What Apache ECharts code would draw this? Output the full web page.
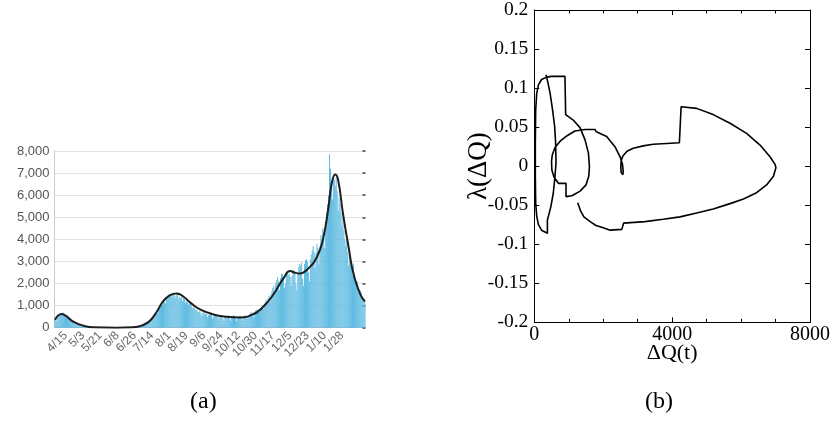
<!DOCTYPE html>
<html><head><meta charset="utf-8">
<script src="https://cdn.jsdelivr.net/npm/echarts@6/dist/echarts.min.js"></script>
<style>html,body{margin:0;padding:0;background:#fff}#c{width:839px;height:422px}</style>
</head><body><div id="c"></div>
<script>
// ---------- Panel (a): daily new cases ----------
const firstDay = '2020-04-04';
const dayCount = 324;
const tickLabels = ['4/15','5/3','5/21','6/8','6/26','7/14','8/1','8/19','9/6','9/24','10/12','10/30','11/17','12/5','12/23','1/10','1/28'];
const yTicks = [0,1000,2000,3000,4000,5000,6000,7000,8000];

const aprBars = [380,420,300,460,520,560,610,650,640,690,540,470,520,560,500,470,430,360,300,320,290,250,210,180,150,130,140];
const mayBars = [120,100,95,80,60,50,55,45,40,30,35,28,22,20,18,16,12,15,10,12,9,8,10,7,8,6,8,9,7,10,8];
const junBars = [6,8,7,5,9,8,6,10,9,7,12,10,8,11,14,12,10,15,13,16,20,18,15,22,25,28,24,35,40,50];
const julBars = [90,110,140,170,150,190,230,260,290,240,320,360,400,350,430,520,600,680,720,650,800,900,1000,1100,1050,1200,1250,1100,1350,1420,1480];
const augBars = [1500,1530,1400,1560,1580,1500,1350,1450,1560,1500,1280,1400,1350,1380,1200,1350,1300,1120,1200,1150,1050,1100,1120,1000,880,950,900,860,780,800,700];
const sepBars = [720,760,650,520,680,700,640,600,620,480,560,600,620,580,420,500,560,540,600,520,380,480,520,560,500,400,300,480,540,520];
const octBars = [500,540,480,320,460,520,560,540,500,300,460,500,520,540,480,320,450,500,560,540,520,400,560,620,700,680,640,480,700,780,820];
const novBars = [780,820,700,880,950,1000,850,1050,1150,1250,1200,1350,1450,1150,1500,1650,1800,1900,1600,2000,2150,2300,2100,1700,2250,2450,2420,2300,1800,2000];
const decBars = [2500,2550,2400,2450,2300,1900,2350,2550,2600,2500,2000,1700,2450,2750,2900,2800,2950,2200,1900,2900,3050,3100,3000,2500,2100,3100,3300,3500,3700,3400,2700];
const janBars = [3400,3800,3600,2900,3700,4200,4000,4500,4200,3600,4800,5200,5600,6000,7850,7200,6600,5800,6900,6700,6400,6800,6200,5300,5900,5600,5200,4600,5000,4400,4000];
const febBars = [3700,4000,3400,2800,3300,3000,2700,2400,2900,2500,2200,1900,2100,1800,1500,1700,1600,1300,1200,1350,1100];

const curveDates = ['4/4','4/11','4/16','4/23','5/4','5/14','6/7','6/24','7/5','7/12','7/19','7/26','8/2','8/9','8/16','8/24','9/2','9/16','9/30','10/14','10/28','11/7','11/17','11/28','12/5','12/10','12/15','12/24','1/2','1/8','1/14','1/17','1/21','1/24','1/29','2/4','2/9','2/16','2/21'];
const curveValues = [360,615,510,275,88,15,3,15,120,317,724,1220,1480,1553,1400,1100,830,600,498,467,620,950,1470,2230,2565,2490,2458,2685,3215,3966,5475,6460,6940,6690,5180,3620,2430,1520,1180];

// ---------- Panel (b): lambda vs delta Q ----------
const dQ = [340,400,460,530,590,620,630,600,550,480,410,380,380,210,120,70,40,30,30,40,70,120,210,360,500,890,910,1130,1330,1470,1570,1600,1580,1500,1330,1090,920,920,700,570,510,500,520,600,750,950,1180,1470,1760,1800,2100,2340,2490,2560,2580,2570,2520,2510,2520,2570,2690,2870,3160,3450,3840,4210,4260,4710,5190,5680,6160,6550,6840,6990,7010,6940,6740,6450,6070,5680,5190,4710,4230,3740,3210,2590,2540,2200,2000,1790,1620,1440,1350,1260];
const lam = [0.117,0.106,0.093,0.072,0.051,0.029,0.004,-0.013,-0.035,-0.052,-0.064,-0.069,-0.086,-0.082,-0.075,-0.064,-0.047,-0.013,0.029,0.072,0.093,0.104,0.111,0.114,0.115,0.115,0.066,0.059,0.049,0.034,0.017,-0.001,-0.013,-0.024,-0.032,-0.038,-0.039,-0.022,-0.022,-0.014,-0.005,0.006,0.014,0.024,0.032,0.039,0.045,0.047,0.047,0.044,0.038,0.025,0.012,0.002,-0.007,-0.011,-0.008,-0.001,0.007,0.013,0.019,0.023,0.026,0.028,0.029,0.030,0.076,0.074,0.066,0.055,0.042,0.027,0.012,0.002,-0.002,-0.013,-0.024,-0.034,-0.042,-0.048,-0.055,-0.060,-0.065,-0.068,-0.071,-0.073,-0.081,-0.082,-0.079,-0.076,-0.071,-0.065,-0.058,-0.047];
const xTicksB = [0,4000,8000];
const yTicksB = [-0.2,-0.15,-0.1,-0.05,0,0.05,0.1,0.15,0.2];

// ---------- build ----------
const categories = [];
{
  const d = new Date(firstDay + 'T00:00:00Z');
  for (let i = 0; i < dayCount; i++) {
    categories.push((d.getUTCMonth() + 1) + '/' + d.getUTCDate());
    d.setUTCDate(d.getUTCDate() + 1);
  }
}
const bars = [].concat(aprBars, mayBars, junBars, julBars, augBars, sepBars, octBars, novBars, decBars, janBars, febBars);
const curve = curveDates.map((c, i) => [c, curveValues[i]]);
const loop = dQ.map((x, i) => [x, lam[i]]);

const serif = 'Liberation Serif';
const sans = 'Liberation Sans';
const chart = echarts.init(document.getElementById('c'), null, {renderer: 'canvas'});
chart.setOption({
  animation: false,
  backgroundColor: '#fff',
  grid: [
    {left: 54.5, top: 151, width: 311, height: 176.7},
    {left: 534.3, top: 9.3, width: 275.7, height: 313}
  ],
  xAxis: [
    {type: 'category', gridIndex: 0, data: categories, boundaryGap: true,
      axisLine: {show: true, lineStyle: {color: '#bbb'}}, axisTick: {show: false},
      axisLabel: {interval: (idx, val) => tickLabels.includes(val), rotate: 45, color: '#666',
        fontFamily: sans, fontSize: 12, margin: 6}},
    {type: 'value', gridIndex: 1, min: xTicksB[0], max: xTicksB[2], interval: 4000,
      axisLine: {show: true, onZero: false, lineStyle: {color: '#000', width: 1}},
      axisTick: {show: true, inside: true, length: 5, lineStyle: {color: '#000'}},
      minorTick: {show: true, splitNumber: 4, length: 3.5, lineStyle: {color: '#000'}},
      splitLine: {show: false},
      axisLabel: {color: '#000', fontFamily: serif, fontSize: 20, margin: 2, formatter: v => String(v)},
      name: 'ΔQ(t)', nameLocation: 'middle', nameGap: 20, nameMoveOverlap: false,
      nameTextStyle: {color: '#000', fontFamily: serif, fontSize: 22}},
    {type: 'value', gridIndex: 1, position: 'top', min: 0, max: 8000, interval: 4000,
      axisLine: {show: true, onZero: false, lineStyle: {color: '#000', width: 1}},
      axisTick: {show: true, inside: true, length: 5, lineStyle: {color: '#000'}},
      minorTick: {show: true, splitNumber: 4, length: 3.5, lineStyle: {color: '#000'}},
      splitLine: {show: false}, axisLabel: {show: false}}
  ],
  yAxis: [
    {type: 'value', gridIndex: 0, min: yTicks[0], max: yTicks[yTicks.length - 1], interval: 1000,
      axisLine: {show: true, lineStyle: {color: '#ccc'}}, axisTick: {show: false},
      splitLine: {show: true, lineStyle: {color: '#e2e2e2'}},
      axisLabel: {color: '#555', fontFamily: sans, fontSize: 13, margin: 5,
        formatter: v => v.toLocaleString('en-US')}},
    {type: 'value', gridIndex: 0, position: 'right', min: 0, max: 8000, interval: 1000,
      axisLine: {show: false}, axisTick: {show: true, inside: true, length: 3, lineStyle: {color: '#444', width: 1.5}},
      splitLine: {show: false}, axisLabel: {show: false}},
    {type: 'value', gridIndex: 1, min: yTicksB[0], max: yTicksB[yTicksB.length - 1], interval: 0.05,
      axisLine: {show: true, onZero: false, lineStyle: {color: '#000', width: 1}},
      axisTick: {show: true, inside: true, length: 5, lineStyle: {color: '#000'}},
      splitLine: {show: false},
      axisLabel: {color: '#000', fontFamily: serif, fontSize: 19.5, margin: 6},
      name: 'λ(ΔQ)', nameLocation: 'middle', nameGap: 42, nameRotate: 90, nameMoveOverlap: false,
      nameTextStyle: {color: '#000', fontFamily: serif, fontSize: 27}},
    {type: 'value', gridIndex: 1, position: 'right', min: -0.2, max: 0.2, interval: 0.05,
      axisLine: {show: true, onZero: false, lineStyle: {color: '#000', width: 1}},
      axisTick: {show: true, inside: true, length: 5, lineStyle: {color: '#000'}},
      splitLine: {show: false}, axisLabel: {show: false}}
  ],
  series: [
    {type: 'bar', xAxisIndex: 0, yAxisIndex: 0, data: bars, barCategoryGap: '0%',
      itemStyle: {color: '#5fbbe2'}, silent: true},
    {type: 'line', xAxisIndex: 0, yAxisIndex: 0, data: curve, smooth: true, symbol: 'none',
      lineStyle: {color: '#1e1e1e', width: 2}, z: 5},
    {type: 'line', xAxisIndex: 1, yAxisIndex: 2, data: loop, smooth: false, symbol: 'none',
      lineStyle: {color: '#000', width: 1.6}}
  ],
  graphic: [
    {type: 'text', left: 190, top: 390, style: {text: '(a)', font: '24px "Liberation Serif"', fill: '#000'}},
    {type: 'text', left: 645, top: 390, style: {text: '(b)', font: '24px "Liberation Serif"', fill: '#000'}}
  ]
});
</script></body></html>
